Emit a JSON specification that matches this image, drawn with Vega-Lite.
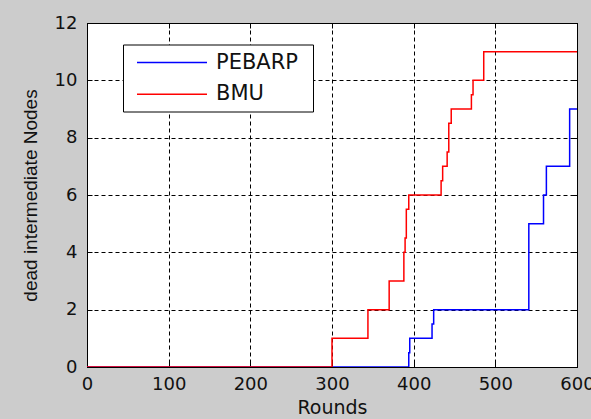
{
  "$schema": "https://vega.github.io/schema/vega-lite/v6.json",
  "width": 490,
  "height": 344,
  "autosize": {"type": "none"},
  "padding": {"left": 87, "top": 23, "right": 14, "bottom": 52},
  "background": "#cccccc",
  "config": {
    "view": {"stroke": "#000000", "strokeWidth": 1, "fill": "#ffffff"},
    "font": "Liberation Sans"
  },
  "data": {
    "values": [
      {"series": "PEBARP", "round": 0, "dead": 0},
      {"series": "PEBARP", "round": 394, "dead": 0.5},
      {"series": "PEBARP", "round": 395.2, "dead": 1},
      {"series": "PEBARP", "round": 422.5, "dead": 1.5},
      {"series": "PEBARP", "round": 424.5, "dead": 2},
      {"series": "PEBARP", "round": 541, "dead": 5},
      {"series": "PEBARP", "round": 559, "dead": 6},
      {"series": "PEBARP", "round": 562.5, "dead": 7},
      {"series": "PEBARP", "round": 591, "dead": 9},
      {"series": "PEBARP", "round": 600, "dead": 9},
      {"series": "BMU", "round": 0, "dead": 0},
      {"series": "BMU", "round": 300, "dead": 1},
      {"series": "BMU", "round": 344, "dead": 2},
      {"series": "BMU", "round": 370, "dead": 3},
      {"series": "BMU", "round": 388, "dead": 4},
      {"series": "BMU", "round": 389.5, "dead": 4.5},
      {"series": "BMU", "round": 391, "dead": 5.5},
      {"series": "BMU", "round": 394, "dead": 6},
      {"series": "BMU", "round": 433.6, "dead": 6.5},
      {"series": "BMU", "round": 435.5, "dead": 7},
      {"series": "BMU", "round": 441, "dead": 7.5},
      {"series": "BMU", "round": 443, "dead": 8.5},
      {"series": "BMU", "round": 446, "dead": 9},
      {"series": "BMU", "round": 470.7, "dead": 9.5},
      {"series": "BMU", "round": 472.7, "dead": 10},
      {"series": "BMU", "round": 485.8, "dead": 11},
      {"series": "BMU", "round": 600, "dead": 11}
    ]
  },
  "layer": [
    {
      "mark": {"type": "line", "interpolate": "step-after", "strokeWidth": 1.5, "clip": true},
      "encoding": {
        "x": {
          "field": "round", "type": "quantitative",
          "scale": {"domain": [0, 600], "nice": false, "zero": false},
          "axis": {
            "values": [0, 100, 200, 300, 400, 500, 600],
            "grid": true, "gridDash": [4, 3], "gridColor": "#000000", "gridOpacity": 1,
            "tickSize": -5, "tickColor": "#000000", "domainColor": "#000000",
            "labelFont": "DejaVu Sans", "labelFontSize": 18, "labelColor": "#111111",
            "labelPadding": 13, "labelFlush": false,
            "title": "Rounds", "titleFont": "DejaVu Sans", "titleFontSize": 19,
            "titleFontWeight": "normal", "titleColor": "#111111", "titlePadding": 5
          }
        },
        "y": {
          "field": "dead", "type": "quantitative",
          "scale": {"domain": [0, 12], "nice": false},
          "axis": {
            "values": [0, 2, 4, 6, 8, 10, 12],
            "grid": true, "gridDash": [4, 3], "gridColor": "#000000", "gridOpacity": 1,
            "tickSize": -5, "tickColor": "#000000", "domainColor": "#000000",
            "labelFont": "DejaVu Sans", "labelFontSize": 18, "labelColor": "#111111",
            "labelPadding": 15, "labelFlush": false,
            "title": "dead intermediate Nodes", "titleFont": "Liberation Sans", "titleFontSize": 19,
            "titleFontWeight": "normal", "titleColor": "#111111", "titlePadding": 14
          }
        },
        "color": {
          "field": "series", "type": "nominal",
          "scale": {"domain": ["PEBARP", "BMU"], "range": ["#0000ff", "#ff0000"]},
          "legend": {
            "title": "\u00a0", "titleOrient": "right", "titlePadding": 8, "titleFontSize": 10,
            "orient": "none", "legendX": 36, "legendY": 21.5,
            "fillColor": "#ffffff", "strokeColor": "#000000", "padding": 7,
            "symbolType": "M-0.4,0H6.6", "symbolSize": 400, "symbolStrokeWidth": 1.5,
            "labelOffset": 64, "labelFont": "DejaVu Sans", "labelFontSize": 21,
            "labelColor": "#111111", "rowPadding": 10.7
          }
        }
      }
    },
    {
      "mark": {"type": "line", "opacity": 0},
      "encoding": {
        "x": {
          "field": "round", "type": "quantitative",
          "axis": {
            "orient": "top", "values": [0, 100, 200, 300, 400, 500, 600],
            "labels": false, "grid": false, "title": null,
            "tickSize": -5, "tickColor": "#000000", "domainColor": "#000000"
          }
        },
        "y": {
          "field": "dead", "type": "quantitative",
          "axis": {
            "orient": "right", "values": [0, 2, 4, 6, 8, 10, 12],
            "labels": false, "grid": false, "title": null,
            "tickSize": -5, "tickColor": "#000000", "domainColor": "#000000"
          }
        }
      }
    }
  ],
  "resolve": {"axis": {"x": "independent", "y": "independent"}}
}
